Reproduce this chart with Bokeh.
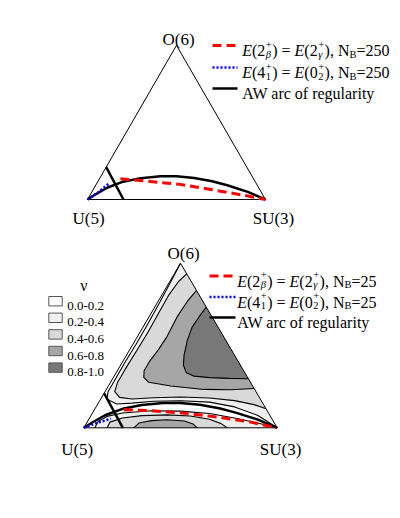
from bokeh.plotting import figure
from bokeh.layouts import column
from bokeh.models import Label, Arrow, BoxAnnotation, Range1d
from bokeh.embed import file_html
from bokeh.resources import INLINE

# ---------------- data (Casten triangle, unit side) ----------------
vertex_names = ["U(5)", "SU(3)", "O(6)"]
vertex_x = [0.0, 1.0, 0.5]
vertex_y = [0.0, 0.0, 0.866]

# Alhassid-Whelan arc of regularity
aw_x = [0.0, 0.05, 0.11, 0.2, 0.3, 0.41, 0.5, 0.6, 0.7, 0.785, 0.9, 1.0]
aw_y = [0.0, 0.032, 0.066, 0.1, 0.12, 0.13, 0.13, 0.121, 0.103, 0.08, 0.043, 0.0]

# straight black line near U(5)
trans_x = [0.105, 0.202]
trans_y = [0.182, 0.0]

# N_B = 250
deg_nb250_x = [0.185, 0.335, 0.52, 0.70, 0.86, 1.0]
deg_nb250_y = [0.116, 0.103, 0.085, 0.055, 0.027, 0.0]
e4_nb250_x = [0.0, 0.055, 0.12]
e4_nb250_y = [0.0, 0.036, 0.09]

# N_B = 25
deg_nb25_x = [0.207, 0.345, 0.5, 0.69, 0.862, 1.0]
deg_nb25_y = [0.095, 0.09, 0.079, 0.057, 0.03, 0.0]
e4_nb25_x = [0.0, 0.07, 0.14]
e4_nb25_y = [0.0, 0.026, 0.048]

# contours of nu (N_B = 25)
nu02_up_x = [1.0, 0.9, 0.78, 0.65, 0.5, 0.36, 0.25, 0.17, 0.12, 0.125, 0.16, 0.21, 0.27, 0.33, 0.39, 0.44, 0.5]
nu02_up_y = [0.0, 0.065, 0.11, 0.135, 0.142, 0.14, 0.13, 0.125, 0.15, 0.19, 0.25, 0.34, 0.44, 0.545, 0.655, 0.75, 0.866]
nu02_low_x = [0.057, 0.075, 0.12, 0.2, 0.35, 0.5, 0.65, 0.8, 0.92, 1.0]
nu02_low_y = [0.0, 0.035, 0.06, 0.078, 0.09, 0.088, 0.075, 0.048, 0.02, 0.0]
nu04_up_x = [0.942, 0.88, 0.78, 0.65, 0.5, 0.36, 0.25, 0.185, 0.16, 0.175, 0.215, 0.27, 0.33, 0.385, 0.44, 0.49, 0.532]
nu04_up_y = [0.1, 0.122, 0.143, 0.157, 0.162, 0.158, 0.152, 0.16, 0.19, 0.24, 0.31, 0.4, 0.5, 0.6, 0.7, 0.77, 0.81]
nu04_low_x = [0.121, 0.135, 0.2, 0.3, 0.43, 0.55, 0.65, 0.71, 0.741]
nu04_low_y = [0.0, 0.03, 0.052, 0.064, 0.068, 0.062, 0.045, 0.022, 0.0]
nu06_low_x = [0.258, 0.285, 0.35, 0.43, 0.52, 0.565, 0.586]
nu06_low_y = [0.0, 0.025, 0.038, 0.042, 0.036, 0.02, 0.0]
nu06_up_x = [0.583, 0.535, 0.483, 0.43, 0.385, 0.34, 0.312, 0.31, 0.335, 0.45, 0.62, 0.76, 0.8805]
nu06_up_y = [0.723, 0.665, 0.585, 0.48, 0.41, 0.35, 0.3, 0.265, 0.24, 0.22, 0.202, 0.2, 0.207]
nu08_x = [0.633, 0.6, 0.56, 0.535, 0.518, 0.515, 0.53, 0.57, 0.65, 0.75, 0.851]
nu08_y = [0.635, 0.59, 0.53, 0.46, 0.38, 0.33, 0.29, 0.272, 0.264, 0.26, 0.258]

nu_labels = ["0.0-0.2", "0.2-0.4", "0.4-0.6", "0.6-0.8", "0.8-1.0"]
nu_colors = ["#ffffff", "#f0f0f0", "#d9d9d9", "#a6a6a6", "#787878"]

# ---------------- helpers ----------------
FONT = "Liberation Serif"
TW = {" ": 250, "(": 333, ")": 333, ",": 250, "-": 333, ".": 250, "=": 564, "+": 564,
      "A": 722, "B": 667, "E": 611, "N": 722, "W": 944, "a": 444, "c": 444, "e": 444,
      "f": 333, "g": 500, "i": 278, "l": 278, "o": 500, "r": 333, "t": 278, "u": 500,
      "y": 500, "β": 500, "γ": 440}


def tw(s, size):
    return sum(TW.get(ch, 500) for ch in s) * size / 1000.0


def lab(p, x, y, text, size, italic=False, align="left"):
    p.add_layout(Label(x=x, y=y, x_units="screen", y_units="screen", text=text,
                       text_font=FONT, text_font_size=f"{size}px",
                       text_font_style="italic" if italic else "normal",
                       text_color="black", text_align=align, text_baseline="alphabetic"))


def rich(p, x, base, pieces, size=16, ss=10.5):
    for pc in pieces:
        kind = pc[0]
        if kind == "stack":
            _, sup, sub, sub_it = pc
            lab(p, x + 0.5, base + 6.5, sup, ss)
            lab(p, x + 0.5, base - 3.5, sub, ss, italic=sub_it)
            x += max(tw(sup, ss), tw(sub, ss)) + 1.0
        elif kind == "sub":
            lab(p, x, base - 3.5, pc[1], ss)
            x += tw(pc[1], ss)
        else:
            lab(p, x, base, pc[1], size, italic=(kind == "i"))
            x += tw(pc[1], size)


def seg(p, x0, x1, y, **kw):
    p.add_layout(Arrow(end=None, x_start=x0, y_start=y, x_end=x1, y_end=y,
                       start_units="screen", end_units="screen", **kw))


RED = dict(line_color="#ff0000", line_width=3, line_dash="9 5")
BLUE = dict(line_color="#0000ff", line_width=2.5, line_dash="2 2")
BLACK = dict(line_color="black", line_width=2.5)


def make_fig(h, xr, yr):
    p = figure(width=384, height=h, x_range=Range1d(*xr), y_range=Range1d(*yr),
               output_backend="svg", toolbar_location=None, min_border=0,
               x_axis_type=None, y_axis_type=None)
    p.outline_line_color = None
    p.background_fill_color = "white"
    p.border_fill_color = "white"
    return p


def outline(p, offs):
    p.line(vertex_x + [vertex_x[0]], vertex_y + [vertex_y[0]], line_color="black", line_width=1)
    for i in range(3):
        dx, dy = offs[i]
        p.add_layout(Label(x=vertex_x[i], y=vertex_y[i], text=vertex_names[i], x_offset=dx, y_offset=dy,
                           text_font=FONT, text_font_size="17px", text_align="center",
                           text_baseline="alphabetic", text_color="black"))


def legend(p, h, x0, x1, tx, rows, nb):
    tail = "=" + nb
    r1 = [("i", "E"), ("n", "(2"), ("stack", "+", "β", True), ("n", ") = "), ("i", "E"), ("n", "(2"),
          ("stack", "+", "γ", True), ("n", "), N"), ("sub", "B"), ("n", tail)]
    r2 = [("i", "E"), ("n", "(4"), ("stack", "+", "1", False), ("n", ") = "), ("i", "E"), ("n", "(0"),
          ("stack", "+", "2", False), ("n", "), N"), ("sub", "B"), ("n", tail)]
    r3 = [("n", "AW arc of regularity")]
    for (yt, style, pcs) in zip(rows, [RED, BLUE, BLACK], [r1, r2, r3]):
        y = h - yt
        seg(p, x0, x1, y, **style)
        rich(p, tx, y - 5, pcs)


# ---------------- top triangle (N_B = 250) ----------------
HT = 232
pt = make_fig(HT, (-0.4438, 1.7135), (-0.2303, 1.0730))
outline(pt, [(1, -19), (8, -19), (2, 6)])
pt.line(aw_x, aw_y, **BLACK)
pt.line(trans_x, trans_y, **BLACK)
pt.line(deg_nb250_x, deg_nb250_y, **RED)
pt.line(e4_nb250_x, e4_nb250_y, **BLUE)
legend(pt, HT, 204, 229, 233.7, [37, 59, 80], "250")

# ---------------- bottom triangle (N_B = 25) ----------------
HB = 268
pb = make_fig(HB, (-0.3894, 1.5961), (-0.4247, 0.9858))
ux, sx, ox = vertex_x
uy, sy, oy = vertex_y
pb.patch(vertex_x, vertex_y, fill_color=nu_colors[2], line_alpha=0)
pb.patch([ox, ux] + nu04_low_x + [sx] + nu04_up_x, [oy, uy] + nu04_low_y + [sy] + nu04_up_y,
         fill_color=nu_colors[1], line_alpha=0)
pb.patch([ox, ux] + nu02_low_x + nu02_up_x, [oy, uy] + nu02_low_y + nu02_up_y,
         fill_color=nu_colors[0], line_alpha=0)
pb.patch(nu06_low_x, nu06_low_y, fill_color=nu_colors[3], line_alpha=0)
pb.patch(nu06_up_x, nu06_up_y, fill_color=nu_colors[3], line_alpha=0)
pb.patch(nu08_x, nu08_y, fill_color=nu_colors[4], line_alpha=0)
for cx, cy in [(nu02_up_x, nu02_up_y), (nu02_low_x, nu02_low_y), (nu04_up_x, nu04_up_y),
               (nu04_low_x, nu04_low_y), (nu06_low_x, nu06_low_y), (nu06_up_x, nu06_up_y),
               (nu08_x, nu08_y)]:
    pb.line(cx, cy, line_color="black", line_width=1.1)
outline(pb, [(-6.6, -22), (3.3, -22), (3, 10)])
pb.line(aw_x, aw_y, **BLACK)
pb.line(trans_x, trans_y, **BLACK)
pb.line(deg_nb25_x, deg_nb25_y, **RED)
pb.line(e4_nb25_x, e4_nb25_y, **BLUE)
legend(pb, HB, 201, 227, 228.7, [35.5, 56.5, 77], "25")

# nu legend
lab(pb, 75.3, HB - 41.7 - 3.7, "ν", 16, align="center")
for i, (t, c) in enumerate(zip(nu_labels, nu_colors)):
    yc = HB - (60.7 + i * 16.6)
    pb.add_layout(BoxAnnotation(left=40.3, right=53.7, bottom=yc - 4.7, top=yc + 4.7,
                                left_units="screen", right_units="screen",
                                bottom_units="screen", top_units="screen",
                                fill_color=c, fill_alpha=1, line_color="#555555",
                                line_alpha=1, line_width=1))
    lab(pb, 58.7, yc - 4.5, t, 13)

layout = column(pt, pb, spacing=0, margin=(8, 0, 0, 8))
open("out.html", "w").write(file_html(layout, INLINE))
